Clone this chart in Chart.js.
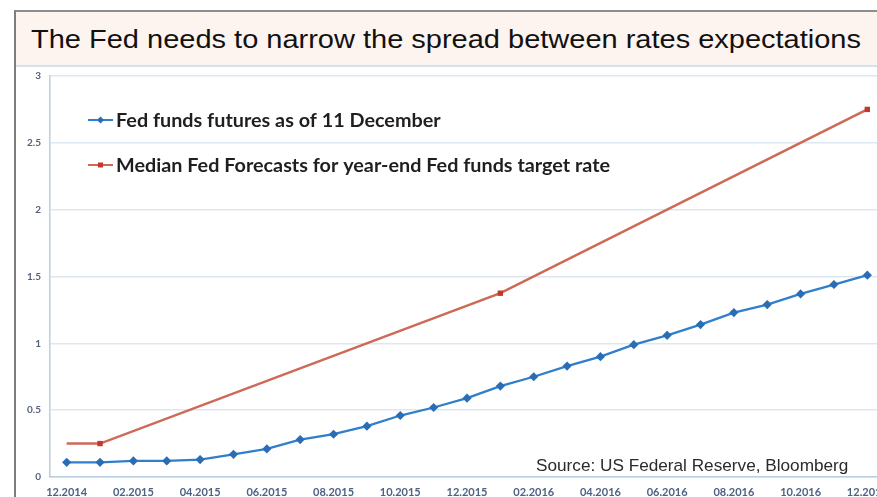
<!DOCTYPE html>
<html>
<head>
<meta charset="utf-8">
<title>Fed funds rate expectations</title>
<script src="https://cdn.jsdelivr.net/npm/chart.js@4.4.1/dist/chart.umd.min.js"></script>
<style>
  html, body { margin: 0; padding: 0; background: #fff; width: 877px; height: 497px; overflow: hidden; }
  .frame { position: absolute; left: 14px; top: 10px; width: 880px; height: 500px;
           border-left: 2px solid #7d7d7d; border-top: 2px solid #8c8c8c; }
  .banner { position: absolute; left: 16px; top: 12px; width: 880px; height: 53px;
            background: #fdf4ef; border-bottom: 2px solid #d3e2ec; }
  .banner h1 { margin: 0; position: absolute; left: 0; width: 860px; top: 12px;
               text-align: center; font: 400 26px "Liberation Sans", Arial, sans-serif;
               color: #111; transform: scaleX(1.115); transform-origin: 430px 0; }
  #wrap { position: absolute; left: 0; top: 0; width: 890px; height: 497px; }
  .source { position: absolute; left: 536px; top: 455px; font: 17.2px "Liberation Sans", Arial, sans-serif;
            color: #2b2b2b; white-space: nowrap; }
</style>
</head>
<body>
<div class="frame"></div>
<div class="banner"><h1>The Fed needs to narrow the spread between rates expectations</h1></div>
<div id="wrap"><canvas id="rateChart" width="890" height="497"></canvas></div>
<div class="source">Source: US Federal Reserve, Bloomberg</div>
<script>
const months = [
    '12.2014', '01.2015', '02.2015', '03.2015', '04.2015', '05.2015', '06.2015',
    '07.2015', '08.2015', '09.2015', '10.2015', '11.2015', '12.2015',
    '01.2016', '02.2016', '03.2016', '04.2016', '05.2016', '06.2016',
    '07.2016', '08.2016', '09.2016', '10.2016', '11.2016', '12.2016'
];

// implied rate from Fed funds futures, one value per month
const futures = [
    0.11, 0.11, 0.12, 0.12, 0.13, 0.17, 0.21, 0.28, 0.32, 0.38, 0.46, 0.52, 0.59,
    0.68, 0.75, 0.83, 0.90, 0.99, 1.06, 1.14, 1.23, 1.29, 1.37, 1.44, 1.51
];

// FOMC median projections, only known at a few dates (gaps are spanned)
const fedMedian = [
    0.25, 0.25, null, null, null, null, null, null, null, null, null, null, null,
    1.375, null, null, null, null, null, null, null, null, null, null, 2.75
];

const seriesNames = [
    'Fed funds futures as of 11 December',
    'Median Fed Forecasts for year-end Fed funds target rate'
];

const yTicks = [0, 0.5, 1, 1.5, 2, 2.5, 3];

const blue = '#2f7fcb';
const blueMarker = '#2a6db5';
const red = '#cc6a55';
const redMarker = '#c0392b';

// legend sits inside the plot, drawn by hand so it can be placed freely
const insideLegend = {
    id: 'insideLegend',
    afterDatasetsDraw(chart) {
        const ctx = chart.ctx;
        const rows = [
            { y: 120, color: blue, marker: blueMarker, diamond: true },
            { y: 165, color: red, marker: redMarker, diamond: false }
        ];
        ctx.save();
        ctx.textBaseline = 'middle';
        rows.forEach((row, i) => {
            ctx.strokeStyle = row.color;
            ctx.lineWidth = 2;
            ctx.beginPath();
            ctx.moveTo(88, row.y);
            ctx.lineTo(113, row.y);
            ctx.stroke();
            ctx.fillStyle = row.marker;
            ctx.beginPath();
            if (row.diamond) {
                ctx.moveTo(100.5, row.y - 3.5);
                ctx.lineTo(104, row.y);
                ctx.lineTo(100.5, row.y + 3.5);
                ctx.lineTo(97, row.y);
            } else {
                ctx.rect(98, row.y - 2.5, 5, 5);
            }
            ctx.fill();
            // text is a touch wider than the font's natural width
            ctx.save();
            ctx.translate(116, row.y + 1);
            ctx.scale(1.1, 1);
            ctx.font = 'bold 18px Lato, "Open Sans", sans-serif';
            ctx.fillStyle = '#1f1f1f';
            ctx.fillText(seriesNames[i], 0, 0);
            ctx.restore();
        });
        ctx.restore();
    }
};

new Chart(document.getElementById('rateChart'), {
    type: 'line',
    data: {
        labels: months,
        datasets: [{
            label: seriesNames[0],
            data: futures,
            borderColor: blue,
            backgroundColor: blueMarker,
            borderWidth: 2.3,
            pointStyle: 'rectRot',
            pointRadius: 4.6,
            pointBorderWidth: 0,
            pointBackgroundColor: blueMarker,
            tension: 0
        }, {
            label: seriesNames[1],
            data: fedMedian,
            borderColor: red,
            backgroundColor: redMarker,
            borderWidth: 2.5,
            spanGaps: true,
            pointStyle: 'rect',
            pointRadius: fedMedian.map((v, i) => i === 0 ? 0 : 3.8),
            pointBorderWidth: 0,
            pointBackgroundColor: redMarker,
            tension: 0
        }]
    },
    options: {
        responsive: false,
        animation: false,
        layout: { padding: { top: 76, right: 6, left: 0, bottom: 0 } },
        plugins: {
            legend: { display: false },
            tooltip: { enabled: false }
        },
        scales: {
            x: {
                offset: true,
                grid: { display: false },
                border: { color: '#b7cfe0', width: 1.5 },
                ticks: {
                    autoSkip: false,
                    maxRotation: 0,
                    padding: 1,
                    color: '#4d6282',
                    font: { family: 'Lato, "Open Sans", sans-serif', size: 11, weight: 'bold' },
                    callback: (value, index) => index % 2 === 0 ? months[index] : ''
                },
                afterFit: scale => { scale.height = 20; }
            },
            y: {
                min: 0,
                max: 3,
                afterBuildTicks: scale => { scale.ticks = yTicks.map(v => ({ value: v })); },
                grid: { color: '#dce7ef', lineWidth: 1.5, drawTicks: false },
                border: { color: '#b7cfe0', width: 1.5 },
                ticks: {
                    padding: 9,
                    color: '#56627a',
                    font: { family: 'Lato, "Open Sans", sans-serif', size: 10, weight: 'bold' },
                    callback: value => String(value)
                },
                afterFit: scale => { scale.width = 50; }
            }
        }
    },
    plugins: [insideLegend]
});
</script>
</body>
</html>
